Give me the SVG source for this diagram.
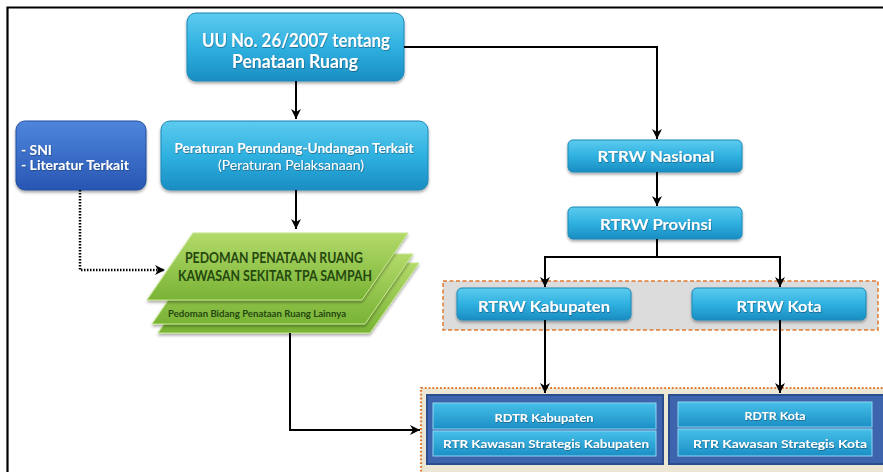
<svg xmlns="http://www.w3.org/2000/svg" width="883" height="472" viewBox="0 0 883 472">
<style>
.wt{font-family:Lato,"Liberation Sans",sans-serif;font-weight:bold;fill:#ffffff;text-anchor:middle;filter:url(#ts)}
.wn{font-family:Lato,"Liberation Sans",sans-serif;font-weight:normal;fill:#ffffff;text-anchor:middle;filter:url(#ts)}
.gt{font-family:Lato,"Liberation Sans",sans-serif;font-weight:bold;fill:#25480f;text-anchor:middle}
.cy{fill:url(#gCyan);stroke:#1d87b8;stroke-width:1;filter:url(#sh)}
.bar{fill:url(#gBar);stroke:#8fd6f0;stroke-width:1}
.dk{fill:#3d64ad;stroke:#2b4c8c;stroke-width:2}
.ln{fill:none;stroke:#000;stroke-width:2}
.gr{fill:url(#gGreen);stroke:#c6e68e;stroke-width:1;filter:url(#sh)}
</style>
<defs>
<linearGradient id="gCyan" x1="0" y1="0" x2="0" y2="1">
<stop offset="0" stop-color="#5dcbef"/>
<stop offset="0.5" stop-color="#2fb1e0"/>
<stop offset="1" stop-color="#1a8dc2"/>
</linearGradient>
<linearGradient id="gBar" x1="0" y1="0" x2="0" y2="1">
<stop offset="0" stop-color="#46bfe8"/>
<stop offset="1" stop-color="#1b8fc6"/>
</linearGradient>
<linearGradient id="gBlue" x1="0" y1="0" x2="0" y2="1">
<stop offset="0" stop-color="#4f86dc"/>
<stop offset="1" stop-color="#2756b3"/>
</linearGradient>
<linearGradient id="gGreen" x1="0" y1="0" x2="0" y2="1">
<stop offset="0" stop-color="#b3da6a"/>
<stop offset="1" stop-color="#78b335"/>
</linearGradient>
<filter id="sh" x="-10%" y="-10%" width="120%" height="130%">
<feDropShadow dx="0" dy="2" stdDeviation="1.5" flood-color="#000" flood-opacity="0.35"/>
</filter>
<filter id="ts" x="-5%" y="-20%" width="110%" height="150%">
<feDropShadow dx="0.5" dy="0.8" stdDeviation="0.5" flood-color="#0a3050" flood-opacity="0.6"/>
</filter>
<marker id="ah" markerUnits="userSpaceOnUse" markerWidth="12" markerHeight="12" viewBox="0 0 12 12" refX="11" refY="6" orient="auto">
<path d="M1,1 L11,6 L1,11 L4,6 z" fill="#000"/>
</marker>
</defs>

<rect x="0" y="0" width="883" height="472" fill="#ffffff"/>
<path d="M7.5,472 V7.5 H883" fill="none" stroke="#000" stroke-width="2.2"/>

<g id="group-rtrw">
<rect x="443" y="281" width="435" height="49" fill="#dcdcdc" stroke="#e07b30" stroke-width="1.5" stroke-dasharray="4,2.5"/>
</g>
<g id="group-rdtr">
<rect x="421" y="388" width="470" height="100" fill="#ece6d5" stroke="#e07b30" stroke-width="2.2" stroke-dasharray="1.8,2"/>
</g>

<g id="uu">
<rect class="cy" x="187" y="13" width="217" height="68" rx="9"/>
<text class="wt" x="296" y="47" font-size="19" textLength="188" lengthAdjust="spacingAndGlyphs">UU No. 26/2007 tentang</text>
<text class="wt" x="295" y="68" font-size="19" textLength="126" lengthAdjust="spacingAndGlyphs">Penataan Ruang</text>
</g>

<g id="peraturan">
<rect class="cy" x="161" y="121" width="267" height="69" rx="9"/>
<text class="wt" x="294" y="153" font-size="12.5" textLength="239" lengthAdjust="spacingAndGlyphs">Peraturan Perundang-Undangan Terkait</text>
<text class="wn" x="291" y="169.5" font-size="12.5" textLength="146" lengthAdjust="spacingAndGlyphs">(Peraturan Pelaksanaan)</text>
</g>

<g id="sni">
<rect x="16" y="121" width="130" height="69" rx="9" fill="url(#gBlue)" stroke="#244f9f" stroke-width="1" filter="url(#sh)"/>
<text class="wt" x="21" y="155" font-size="12.5" style="text-anchor:start" textLength="31" lengthAdjust="spacingAndGlyphs">- SNI</text>
<text class="wt" x="21" y="170" font-size="12.5" style="text-anchor:start" textLength="108" lengthAdjust="spacingAndGlyphs">- Literatur Terkait</text>
</g>

<g id="pedoman">
<polygon class="gr" points="206,263 419,263 370,333 158,333"/>
<polygon class="gr" points="200,254 413,254 365,324 152,324"/>
<polygon class="gr" points="193,233 408,233 362,300 147,300"/>
<text class="gt" x="274" y="263" font-size="14.5" textLength="178" lengthAdjust="spacingAndGlyphs">PEDOMAN PENATAAN RUANG</text>
<text class="gt" x="275" y="281" font-size="14.5" textLength="194" lengthAdjust="spacingAndGlyphs">KAWASAN SEKITAR TPA SAMPAH</text>
<text class="gt" x="257" y="317" font-size="9.5" textLength="178" lengthAdjust="spacingAndGlyphs">Pedoman Bidang Penataan Ruang Lainnya</text>
</g>

<g id="nasional">
<rect class="cy" x="568" y="140" width="174" height="32" rx="5"/>
<text class="wt" x="656" y="162" font-size="16" textLength="117" lengthAdjust="spacingAndGlyphs">RTRW Nasional</text>
</g>

<g id="provinsi">
<rect class="cy" x="568" y="207" width="174" height="32" rx="5"/>
<text class="wt" x="656" y="230" font-size="16" textLength="112" lengthAdjust="spacingAndGlyphs">RTRW Provinsi</text>
</g>

<g id="kabupaten">
<rect class="cy" x="457" y="288" width="174" height="32" rx="5"/>
<text class="wt" x="544" y="312" font-size="16" textLength="132" lengthAdjust="spacingAndGlyphs">RTRW Kabupaten</text>
</g>

<g id="kota">
<rect class="cy" x="692" y="288" width="174" height="32" rx="5"/>
<text class="wt" x="779" y="312" font-size="16" textLength="85" lengthAdjust="spacingAndGlyphs">RTRW Kota</text>
</g>

<g id="rdtr-kabupaten">
<rect class="dk" x="427" y="395" width="236" height="69"/>
<rect class="bar" x="433" y="403" width="223" height="26"/>
<text class="wt" x="544" y="422" font-size="12" textLength="99" lengthAdjust="spacingAndGlyphs">RDTR Kabupaten</text>
<rect class="bar" x="433" y="431" width="223" height="25"/>
<text class="wt" x="546" y="448" font-size="12" textLength="206" lengthAdjust="spacingAndGlyphs">RTR Kawasan Strategis Kabupaten</text>
</g>

<g id="rdtr-kota">
<rect class="dk" x="669" y="395" width="222" height="69"/>
<rect class="bar" x="678" y="402" width="194" height="25"/>
<text class="wt" x="775" y="420" font-size="12" textLength="61" lengthAdjust="spacingAndGlyphs">RDTR Kota</text>
<rect class="bar" x="678" y="429" width="194" height="27"/>
<text class="wt" x="780" y="448" font-size="12" textLength="174" lengthAdjust="spacingAndGlyphs">RTR Kawasan Strategis Kota</text>
</g>

<g id="connectors">
<path class="ln" d="M296,81 V119" marker-end="url(#ah)"/>
<path class="ln" d="M404,47 H657 V139" marker-end="url(#ah)"/>
<path class="ln" d="M296,190 V229" marker-end="url(#ah)"/>
<path d="M80,190 V270 H165" fill="none" stroke="#000" stroke-width="2.5" stroke-dasharray="1.5,1.5" marker-end="url(#ah)"/>
<path class="ln" d="M657,172 V206" marker-end="url(#ah)"/>
<path class="ln" d="M657,239 V257"/>
<path class="ln" d="M544,257 H781"/>
<path class="ln" d="M545,256 V287" marker-end="url(#ah)"/>
<path class="ln" d="M780,256 V287" marker-end="url(#ah)"/>
<path class="ln" d="M545,320 V393" marker-end="url(#ah)"/>
<path class="ln" d="M780,320 V393" marker-end="url(#ah)"/>
<path class="ln" d="M290,333 V430 H420" marker-end="url(#ah)"/>
</g>
</svg>
